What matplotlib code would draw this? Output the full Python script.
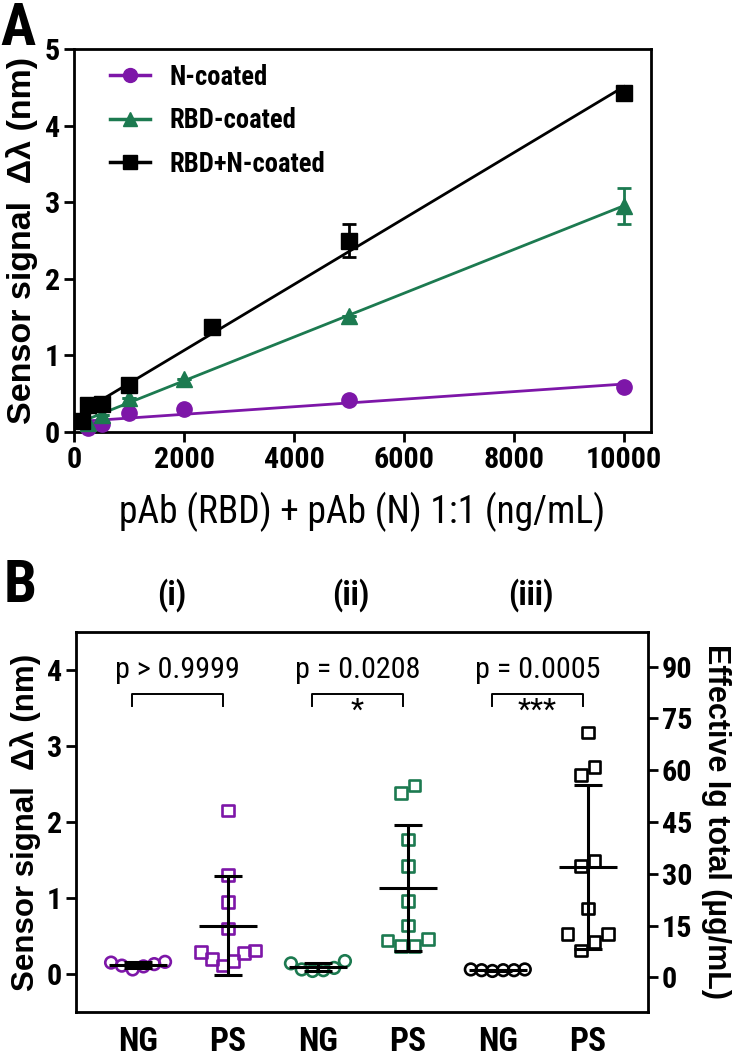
import numpy as np
import matplotlib
matplotlib.use("Agg")
import matplotlib.pyplot as plt
from matplotlib.lines import Line2D
from matplotlib import font_manager
from matplotlib.font_manager import FontProperties

plt.rcParams['font.family'] = ['Liberation Sans', 'DejaVu Sans']

# ---- panel A: titration, pAb (RBD) + pAb (N) 1:1 ----
n_conc = [250, 500, 1000, 2000, 5000, 10000]
n_signal = [0.05, 0.11, 0.25, 0.30, 0.42, 0.59]
n_err = [0, 0, 0, 0, 0, 0]

rbd_conc = [250, 500, 1000, 2000, 5000, 10000]
rbd_signal = [0.12, 0.22, 0.44, 0.69, 1.52, 2.95]
rbd_err = [0, 0, 0, 0, 0, 0.23]

mix_conc = [150, 250, 500, 1000, 2500, 5000, 10000]
mix_signal = [0.15, 0.35, 0.37, 0.62, 1.37, 2.50, 4.42]
mix_err = [0, 0, 0, 0.05, 0, 0.21, 0.05]

# ---- panel B: patient sera (PS) vs negative (NG) ----
ng_i = [0.16, 0.13, 0.10, 0.06, 0.11, 0.15]
ps_i = [2.15, 1.30, 0.95, 0.60, 0.31, 0.29, 0.28, 0.20, 0.17, 0.11]
ng_ii = [0.17, 0.08, 0.04, 0.06, 0.14, 0.05]
ps_ii = [2.48, 2.38, 1.77, 1.42, 0.96, 0.64, 0.44, 0.37, 0.37, 0.46]
ng_iii = [0.05, 0.06, 0.04, 0.05, 0.06, 0.05]
ps_iii = [3.18, 2.72, 2.62, 1.49, 1.42, 0.86, 0.53, 0.53, 0.42, 0.31]

group_labels = ['NG', 'PS', 'NG', 'PS', 'NG', 'PS']
pair_titles = ['(i)', '(ii)', '(iii)']
p_texts = ['p > 0.9999', 'p = 0.0208', 'p = 0.0005']
stars = ['', '*', '***']

purple = '#7d16a8'
green = '#1c7a50'


def swarm_offsets(values, row_gap=0.12, step=0.15):
    # points close in value share a row and are spread sideways
    values = np.asarray(values)
    order = np.argsort(values, kind='stable')
    offsets = np.zeros(len(values))
    rows = []
    current = [order[0]]
    for idx in order[1:]:
        if values[idx] - values[current[-1]] < row_gap:
            current.append(idx)
        else:
            rows.append(current)
            current = [idx]
    rows.append(current)
    for row in rows:
        n = len(row)
        st = step if n <= 4 else 0.6 / (n - 1)
        slots = (np.arange(n) - (n - 1) / 2) * st
        slots = slots[np.argsort(np.abs(slots), kind='stable')]
        for idx, s in zip(row, slots):
            offsets[idx] = s
    return offsets


fig = plt.figure(figsize=(7.42, 10.56), dpi=100)

# the original text is tall and narrow: use a condensed face if one is installed,
# sized so that widths stay those of Arial at the base size
preferred = ['Liberation Sans Narrow', 'Arial Narrow', 'Roboto Condensed',
             'Noto Sans', 'Open Sans', 'DejaVu Sans', 'Roboto', 'Lato']
condensed = {f.name for f in font_manager.fontManager.ttflist if f.stretch == 'condensed'}
cond_family = next((nm for nm in preferred if nm in condensed), None)
if cond_family is None and condensed:
    cond_family = sorted(condensed)[0]

renderer = fig.canvas.get_renderer()
probe = 'RBD+N-coated 10000 pAb (ng/mL)'
ref_w = renderer.get_text_width_height_descent(
    probe, FontProperties(family='Liberation Sans', weight='bold', size=10), False)[0]
if cond_family:
    cond_w = renderer.get_text_width_height_descent(
        probe, FontProperties(family=cond_family, stretch='condensed', weight='bold',
                              size=10), False)[0]
    k = min(ref_w / cond_w, 1.25)
else:
    cond_family = 'Liberation Sans'
    k = 1.0


def fp(size, bold=True):
    return FontProperties(family=cond_family, stretch='condensed',
                          weight='bold' if bold else 'normal', size=size * k)


def style_ticks(labels, size):
    for lab in labels:
        lab.set_fontproperties(fp(size))


# ---------------- panel A ----------------
axA = fig.add_axes([74 / 742, 1 - 432 / 1056, (651 - 74) / 742, (432 - 49) / 1056])

series = [
    (n_conc, n_signal, n_err, purple, 'o', 'N-coated'),
    (rbd_conc, rbd_signal, rbd_err, green, '^', 'RBD-coated'),
    (mix_conc, mix_signal, mix_err, 'black', 's', 'RBD+N-coated'),
]
handles = []
for x, y, err, col, mk, lab in series:
    x = np.array(x, dtype=float)
    slope, icpt = np.polyfit(x, y, 1)
    xs = np.array([x.min(), x.max()])
    axA.plot(xs, slope * xs + icpt, color=col, lw=2, zorder=2)
    axA.errorbar(x, y, yerr=err, fmt=mk, color=col, ms=11, capsize=5,
                 elinewidth=2, capthick=2, zorder=3, clip_on=False)
    handles.append(Line2D([], [], color=col, marker=mk, ms=10, lw=2.5, label=lab))

axA.set_xlim(0, 10490)
axA.set_ylim(0, 5)
axA.set_xticks([0, 2000, 4000, 6000, 8000, 10000])
axA.set_yticks([0, 1, 2, 3, 4, 5])
for sp in axA.spines.values():
    sp.set_linewidth(2)
axA.tick_params(direction='out', length=7, width=2, pad=3)
style_ticks(axA.get_xticklabels() + axA.get_yticklabels(), 18.5)
axA.set_xlabel('pAb (RBD) + pAb (N) 1:1 (ng/mL)', fontproperties=fp(23, bold=False),
               labelpad=13)
axA.set_ylabel('Sensor signal  Δλ (nm)', fontsize=24.5, fontweight='bold', labelpad=5)
axA.legend(handles=handles, loc='upper left', frameon=False,
           bbox_to_anchor=(0.03, 1.01), prop=fp(16.3), handlelength=1.5,
           borderaxespad=0.3, labelspacing=0.62, handletextpad=0.75)
fig.text(0.0, 0.999, 'A', fontproperties=fp(36), va='top', ha='left')

# ---------------- panel B ----------------
axB = fig.add_axes([76 / 742, 1 - 1012 / 1056, (648 - 76) / 742, (1012 - 632) / 1056])
groups = [ng_i, ps_i, ng_ii, ps_ii, ng_iii, ps_iii]
colors = [purple, purple, green, green, 'black', 'black']
markers = ['o', 's', 'o', 's', 'o', 's']

for pos, (vals, col, mk) in enumerate(zip(groups, colors, markers), start=1):
    vals = np.array(vals)
    offs = swarm_offsets(vals)
    axB.scatter(pos + offs, vals, marker=mk, s=70, facecolors='none',
                edgecolors=col, linewidths=1.9, zorder=3)
    m = vals.mean()
    sd = vals.std(ddof=1)
    axB.hlines(m, pos - 0.32, pos + 0.32, color='black', lw=2.2, zorder=4)
    axB.errorbar(pos, m, yerr=sd, fmt='none', ecolor='black', elinewidth=2.2,
                 capsize=10, capthick=2.2, zorder=4)

for k_ in range(3):
    left = 2 * k_ + 1
    right = 2 * k_ + 2
    mid = (left + right) / 2
    axB.plot([left - 0.07, left - 0.07, right - 0.05, right - 0.05],
             [3.52, 3.69, 3.69, 3.52], color='black', lw=1.4)
    axB.text(mid - 0.06, 4.0, p_texts[k_], ha='center', va='center',
             fontproperties=fp(18.5, bold=False))
    if stars[k_]:
        axB.text(mid - 0.06, 3.46, stars[k_], ha='center', va='center',
                 fontproperties=fp(18.5, bold=False))
    axB.text(mid - 0.13, 4.99, pair_titles[k_], ha='center', va='center',
             fontproperties=fp(20), clip_on=False)

axB.set_xlim(0.31, 6.67)
axB.set_ylim(-0.5, 4.5)
axB.set_yticks([0, 1, 2, 3, 4])
axB.set_xticks(range(1, 7))
axB.set_xticklabels(group_labels)
for sp in axB.spines.values():
    sp.set_linewidth(2)
axB.tick_params(axis='y', direction='out', length=7, width=2, pad=3)
axB.tick_params(axis='x', length=0, pad=10)
style_ticks(axB.get_yticklabels(), 18.5)
style_ticks(axB.get_xticklabels(), 20.5)
axB.set_ylabel('Sensor signal  Δλ (nm)', fontsize=22.5, fontweight='bold', labelpad=4)

axR = axB.twinx()
axR.set_ylim(-10, 100)
axR.set_yticks([0, 15, 30, 45, 60, 75, 90])
axR.tick_params(axis='y', direction='out', length=7, width=2, pad=3)
style_ticks(axR.get_yticklabels(), 18.5)
axR.set_ylabel('Effective Ig total (µg/mL)', fontsize=22, fontweight='bold',
               rotation=270, va='bottom', labelpad=6)
fig.text(0.005, 1 - 558 / 1056, 'B', fontproperties=fp(36), va='top', ha='left')

fig.savefig('out.png', dpi=100)
